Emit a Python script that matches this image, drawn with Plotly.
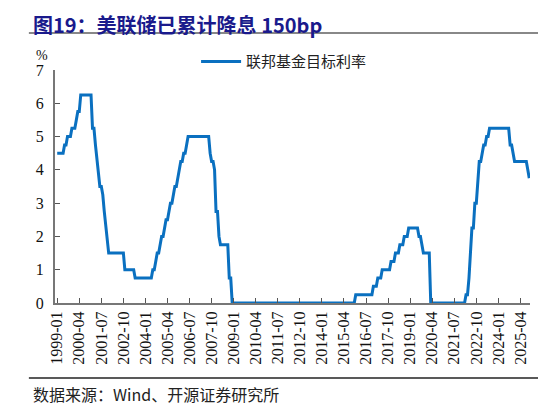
import plotly.graph_objects as go

# 联邦基金目标利率 (月末, %), 1999-01 .. 2025-10
years = list(range(1999, 2026))
rate_1999 = [4.5, 4.5, 4.5, 4.5, 4.5, 4.75, 4.75, 5.0, 5.0, 5.0, 5.25, 5.25]
rate_2000 = [5.25, 5.5, 5.75, 5.75, 6.25, 6.25, 6.25, 6.25, 6.25, 6.25, 6.25, 6.25]
rate_2001 = [5.25, 5.25, 4.75, 4.25, 3.75, 3.5, 3.5, 3.25, 2.75, 2.25, 1.75, 1.5]
rate_2002 = [1.5, 1.5, 1.5, 1.5, 1.5, 1.5, 1.5, 1.5, 1.5, 1.5, 1.0, 1.0]
rate_2003 = [1.0, 1.0, 1.0, 1.0, 1.0, 0.75, 0.75, 0.75, 0.75, 0.75, 0.75, 0.75]
rate_2004 = [0.75, 0.75, 0.75, 0.75, 0.75, 1.0, 1.0, 1.25, 1.5, 1.5, 1.75, 2.0]
rate_2005 = [2.0, 2.25, 2.5, 2.5, 2.75, 3.0, 3.0, 3.25, 3.5, 3.5, 3.75, 4.0]
rate_2006 = [4.25, 4.25, 4.5, 4.5, 4.75, 5.0, 5.0, 5.0, 5.0, 5.0, 5.0, 5.0]
rate_2007 = [5.0, 5.0, 5.0, 5.0, 5.0, 5.0, 5.0, 5.0, 4.5, 4.25, 4.25, 4.0]
rate_2008 = [2.75, 2.75, 2.0, 1.75, 1.75, 1.75, 1.75, 1.75, 1.75, 0.75, 0.75, 0.0]
rate_2009 = [0.0] * 12
rate_2010 = [0.0] * 12
rate_2011 = [0.0] * 12
rate_2012 = [0.0] * 12
rate_2013 = [0.0] * 12
rate_2014 = [0.0] * 12
rate_2015 = [0.0, 0.0, 0.0, 0.0, 0.0, 0.0, 0.0, 0.0, 0.0, 0.0, 0.0, 0.25]
rate_2016 = [0.25, 0.25, 0.25, 0.25, 0.25, 0.25, 0.25, 0.25, 0.25, 0.25, 0.25, 0.5]
rate_2017 = [0.5, 0.5, 0.75, 0.75, 0.75, 1.0, 1.0, 1.0, 1.0, 1.0, 1.0, 1.25]
rate_2018 = [1.25, 1.25, 1.5, 1.5, 1.5, 1.75, 1.75, 1.75, 2.0, 2.0, 2.0, 2.25]
rate_2019 = [2.25, 2.25, 2.25, 2.25, 2.25, 2.25, 2.0, 2.0, 1.75, 1.5, 1.5, 1.5]
rate_2020 = [1.5, 1.5, 0.0, 0.0, 0.0, 0.0, 0.0, 0.0, 0.0, 0.0, 0.0, 0.0]
rate_2021 = [0.0] * 12
rate_2022 = [0.0, 0.0, 0.25, 0.25, 0.75, 1.5, 2.25, 2.25, 3.0, 3.0, 3.75, 4.25]
rate_2023 = [4.25, 4.5, 4.75, 4.75, 5.0, 5.0, 5.25, 5.25, 5.25, 5.25, 5.25, 5.25]
rate_2024 = [5.25, 5.25, 5.25, 5.25, 5.25, 5.25, 5.25, 5.25, 4.75, 4.75, 4.5, 4.25]
rate_2025 = [4.25, 4.25, 4.25, 4.25, 4.25, 4.25, 4.25, 4.25, 4.0, 3.75]

rates = (rate_1999 + rate_2000 + rate_2001 + rate_2002 + rate_2003 + rate_2004
         + rate_2005 + rate_2006 + rate_2007 + rate_2008 + rate_2009 + rate_2010
         + rate_2011 + rate_2012 + rate_2013 + rate_2014 + rate_2015 + rate_2016
         + rate_2017 + rate_2018 + rate_2019 + rate_2020 + rate_2021 + rate_2022
         + rate_2023 + rate_2024 + rate_2025)
months = [f"{y}-{m:02d}" for y in years for m in range(1, 13)][:len(rates)]
tick_labels = months[::15]

serif = "Liberation Serif, Times New Roman, serif"
cjk = "Noto Sans CJK SC"

fig = go.Figure()
fig.add_trace(go.Scatter(x=months, y=rates, mode="lines", name="联邦基金目标利率",
                         line=dict(color="#0A70C0", width=3)))

# page body adds an 8px offset, so the figure is 8px smaller and shifted
fig.update_layout(
    width=538, height=400,
    margin=dict(l=47, r=16, t=62, b=105, autoexpand=False),
    paper_bgcolor="white", plot_bgcolor="white",
    showlegend=True,
    legend=dict(x=0.297, y=1.035, xanchor="left", yanchor="middle", orientation="h",
                font=dict(family=cjk, size=15, color="#222"), itemwidth=40,
                bgcolor="rgba(0,0,0,0)"),
    xaxis=dict(type="category", range=[-1.5, len(rates) - 0.5], tickmode="array",
               tickvals=tick_labels, ticktext=tick_labels, tickangle=-90,
               ticks="inside", ticklen=5, tickcolor="#555", showline=True,
               linecolor="#777", linewidth=2, showgrid=False, automargin=False,
               tickfont=dict(family=serif, size=16, color="#111")),
    yaxis=dict(range=[0, 7], dtick=1, ticks="inside", ticklen=5, tickcolor="#555",
               showline=True, linecolor="#777", linewidth=2, showgrid=False,
               zeroline=False, automargin=False, ticklabelstandoff=6,
               tickfont=dict(family=serif, size=16, color="#111")),
)

fig.add_annotation(text="%", xref="paper", yref="paper", x=-0.027, y=1.02,
                   xanchor="center", yanchor="bottom", showarrow=False,
                   font=dict(family=serif, size=14, color="#111"))
fig.add_annotation(text="<b>图19：美联储已累计降息 150bp</b>", xref="paper", yref="paper",
                   x=-0.05, y=1.264, xanchor="left", yanchor="top", showarrow=False,
                   font=dict(family=cjk, size=20, color="#1A1A8C"))
fig.add_annotation(text="数据来源：Wind、开源证券研究所", xref="paper", yref="paper",
                   x=-0.05, y=-0.392, xanchor="left", yanchor="middle", showarrow=False,
                   font=dict(family=cjk, size=16, color="#222"))
fig.add_shape(type="line", xref="paper", yref="paper", x0=-0.055, x1=1.04, y0=1.159, y1=1.159,
              line=dict(color="#888", width=2))
fig.add_shape(type="line", xref="paper", yref="paper", x0=-0.055, x1=1.04, y0=-0.322, y1=-0.322,
              line=dict(color="#222", width=1.5))

fig.write_html("out.html")
